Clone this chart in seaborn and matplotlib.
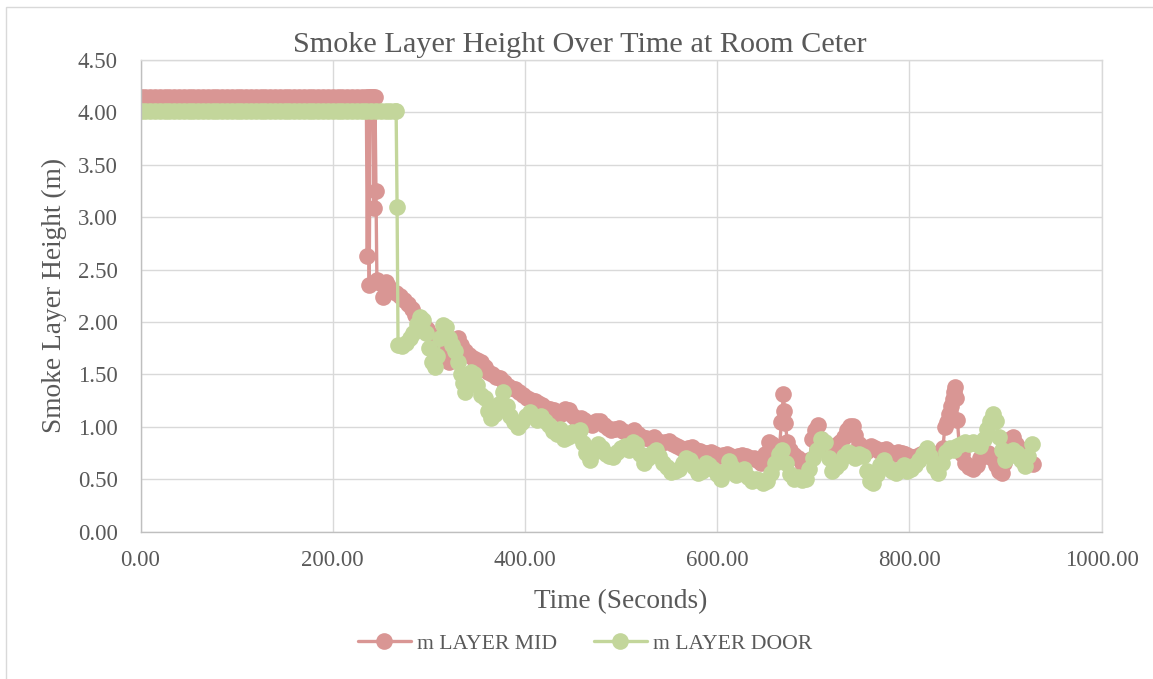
import matplotlib
matplotlib.use("Agg")
import matplotlib.pyplot as plt
from matplotlib.patches import Rectangle
from matplotlib.ticker import FormatStrFormatter, MultipleLocator
import seaborn as sns

# Smoke layer height (m) at the mid-room device
mid_time = [0, 5, 10, 15, 20, 25, 30, 35, 40, 45, 50, 55, 60, 65, 70, 75, 80, 85, 90, 95,
            100, 105, 110, 115, 120, 125, 130, 135, 140, 145, 150, 155, 160, 165, 170, 175,
            180, 185, 190, 195, 200, 205, 210, 215, 220, 225, 230, 235,
            236, 237, 238, 239, 240, 241, 242, 243, 244, 245,
            246, 249, 252, 255, 258, 262, 266, 270, 274, 278, 282, 286, 290, 294, 298,
            302, 306, 310, 314, 318, 321, 324, 327, 330, 334, 338, 342, 346, 350, 354, 358,
            362, 366, 370, 374, 378, 382, 386, 390, 394, 398, 402, 406, 410, 414, 418,
            422, 426, 430, 434, 438, 442, 446, 450, 454, 458, 462, 466, 470, 474, 478,
            482, 486, 490, 494, 498, 502, 506, 510, 514, 518, 522, 526, 530, 534, 538,
            542, 546, 550, 554, 558, 562, 566, 570, 574, 578, 582, 586, 590, 594, 598,
            602, 606, 610, 614, 618, 622, 626, 630, 634, 638, 642, 646, 650, 654, 657,
            660, 664, 667, 669, 670, 671, 673, 676, 680, 684, 688, 692, 696, 699, 702,
            705, 708, 712, 716, 720, 724, 728, 732, 735, 738, 741, 744, 748, 752, 756,
            760, 764, 768, 772, 776, 780, 784, 788, 792, 796, 800, 804, 808, 812, 816,
            820, 824, 828, 832, 835, 837, 839, 841, 843, 845, 847, 848, 849, 850, 852,
            855, 858, 862, 866, 870, 874, 878, 882, 886, 890, 893, 896, 899, 902, 905,
            908, 911, 914, 918, 922, 926, 929]
mid_height = [4.15, 4.15, 4.15, 4.15, 4.15, 4.15, 4.15, 4.15, 4.15, 4.15, 4.15, 4.15, 4.15,
              4.15, 4.15, 4.15, 4.15, 4.15, 4.15, 4.15, 4.15, 4.15, 4.15, 4.15, 4.15, 4.15,
              4.15, 4.15, 4.15, 4.15, 4.15, 4.15, 4.15, 4.15, 4.15, 4.15, 4.15, 4.15, 4.15,
              4.15, 4.15, 4.15, 4.15, 4.15, 4.15, 4.15, 4.15, 4.15,
              2.63, 4.15, 2.35, 4.15, 4.15, 4.15, 4.15, 3.09, 4.15, 3.25,
              2.40, 2.37, 2.24, 2.38, 2.34, 2.30, 2.28, 2.25, 2.21, 2.17, 2.12, 2.07, 2.02,
              1.98, 1.93, 1.88, 1.84, 1.80, 1.74, 1.67, 1.62, 1.72, 1.83, 1.85, 1.78, 1.72,
              1.69, 1.66, 1.64, 1.62, 1.57, 1.52, 1.50, 1.48, 1.47, 1.43, 1.39, 1.37, 1.36,
              1.33, 1.30, 1.28, 1.26, 1.25, 1.23, 1.21, 1.18, 1.17, 1.16, 1.13, 1.12, 1.17,
              1.16, 1.10, 1.06, 1.08, 1.07, 1.04, 1.02, 1.06, 1.06, 1.02, 0.99, 0.97, 0.98,
              0.99, 0.96, 0.94, 0.95, 0.97, 0.93, 0.90, 0.89, 0.88, 0.90, 0.87, 0.85, 0.86,
              0.87, 0.84, 0.82, 0.80, 0.79, 0.80, 0.81, 0.78, 0.77, 0.75, 0.75, 0.76, 0.74,
              0.72, 0.73, 0.74, 0.72, 0.71, 0.72, 0.73, 0.72, 0.70, 0.70, 0.68, 0.66, 0.74,
              0.86, 0.84, 0.72, 0.70, 1.05, 1.31, 1.15, 1.04, 0.86, 0.78, 0.73, 0.70, 0.66,
              0.62, 0.68, 0.88, 0.97, 1.02, 0.88, 0.80, 0.76, 0.80, 0.83, 0.86, 0.90, 0.97,
              1.01, 1.01, 0.92, 0.84, 0.78, 0.77, 0.82, 0.80, 0.77, 0.78, 0.79, 0.76, 0.74,
              0.76, 0.75, 0.74, 0.72, 0.71, 0.72, 0.74, 0.76, 0.73, 0.72, 0.74, 0.76, 0.80,
              1.00, 1.05, 1.12, 1.20, 1.27, 1.33, 1.38, 1.28, 1.07, 0.82, 0.74, 0.66, 0.62,
              0.60, 0.64, 0.70, 0.72, 0.75, 0.70, 0.64, 0.58, 0.56, 0.66, 0.78, 0.88, 0.90,
              0.84, 0.80, 0.76, 0.72, 0.66, 0.65]

# Smoke layer height (m) at the door device
door_time = [0, 5, 10, 15, 20, 25, 30, 35, 40, 45, 50, 55, 60, 65, 70, 75, 80, 85, 90, 95,
             100, 105, 110, 115, 120, 125, 130, 135, 140, 145, 150, 155, 160, 165, 170, 175,
             180, 185, 190, 195, 200, 205, 210, 215, 220, 225, 230, 235, 240, 245, 250,
             255, 260, 265, 266, 267, 268,
             272, 276, 280, 284, 288, 291, 294, 297, 300, 303, 306, 309, 312, 315, 318,
             321, 324, 327, 330, 333, 336, 338, 341, 344, 347, 350, 354, 358, 362, 365,
             369, 373, 377, 381, 385, 389, 393, 397, 401, 405, 409, 413, 417, 421, 425,
             429, 433, 437, 441, 445, 449, 453, 457, 460, 464, 468, 472, 476, 480, 484,
             488, 492, 496, 500, 504, 508, 512, 516, 520, 524, 528, 532, 536, 540, 544,
             548, 552, 556, 560, 564, 568, 572, 576, 580, 584, 588, 592, 596, 600, 604,
             608, 612, 616, 620, 624, 628, 632, 636, 640, 644, 648, 652, 656, 660, 664,
             668, 672, 676, 680, 684, 688, 692, 696, 700, 704, 708, 712, 716, 720, 724,
             728, 732, 736, 740, 744, 748, 752, 756, 759, 762, 766, 770, 774, 778, 782,
             786, 790, 794, 798, 802, 806, 810, 814, 818, 822, 826, 830, 834, 838, 842,
             846, 850, 854, 858, 862, 866, 870, 874, 878, 881, 884, 887, 890, 893, 896,
             900, 904, 908, 912, 916, 920, 924, 928]
door_height = [4.01, 4.01, 4.01, 4.01, 4.01, 4.01, 4.01, 4.01, 4.01, 4.01, 4.01, 4.01, 4.01,
               4.01, 4.01, 4.01, 4.01, 4.01, 4.01, 4.01, 4.01, 4.01, 4.01, 4.01, 4.01, 4.01,
               4.01, 4.01, 4.01, 4.01, 4.01, 4.01, 4.01, 4.01, 4.01, 4.01, 4.01, 4.01, 4.01,
               4.01, 4.01, 4.01, 4.01, 4.01, 4.01, 4.01, 4.01, 4.01, 4.01, 4.01, 4.01, 4.01,
               4.01, 4.01, 4.01, 3.10, 1.78,
               1.77, 1.80, 1.85, 1.90, 1.98, 2.05, 2.02, 1.90, 1.75, 1.62, 1.57, 1.68, 1.85,
               1.97, 1.95, 1.85, 1.78, 1.72, 1.62, 1.50, 1.42, 1.33, 1.45, 1.52, 1.50, 1.40,
               1.30, 1.28, 1.15, 1.08, 1.12, 1.22, 1.33, 1.20, 1.10, 1.05, 1.00, 1.05, 1.10,
               1.14, 1.10, 1.07, 1.10, 1.06, 1.02, 0.96, 0.93, 0.98, 0.88, 0.90, 0.95, 0.92,
               0.97, 0.85, 0.75, 0.68, 0.76, 0.84, 0.80, 0.74, 0.72, 0.71, 0.76, 0.80, 0.82,
               0.78, 0.86, 0.84, 0.74, 0.66, 0.70, 0.75, 0.78, 0.72, 0.66, 0.62, 0.57, 0.58,
               0.60, 0.66, 0.70, 0.68, 0.62, 0.56, 0.58, 0.66, 0.64, 0.60, 0.55, 0.50, 0.58,
               0.67, 0.62, 0.54, 0.58, 0.60, 0.52, 0.48, 0.50, 0.49, 0.46, 0.48, 0.56, 0.66,
               0.74, 0.78, 0.66, 0.55, 0.50, 0.52, 0.49, 0.50, 0.60, 0.70, 0.78, 0.88, 0.86,
               0.70, 0.58, 0.62, 0.66, 0.72, 0.76, 0.74, 0.70, 0.74, 0.72, 0.58, 0.48, 0.46,
               0.55, 0.64, 0.68, 0.62, 0.58, 0.56, 0.60, 0.64, 0.58, 0.60, 0.64, 0.68, 0.74,
               0.80, 0.72, 0.62, 0.56, 0.66, 0.76, 0.80, 0.78, 0.82, 0.84, 0.86, 0.84, 0.86,
               0.84, 0.82, 0.88, 0.98, 1.06, 1.12, 1.06, 0.90, 0.78, 0.68, 0.72, 0.78, 0.75,
               0.68, 0.63, 0.72, 0.84]

series_labels = ["m LAYER MID", "m LAYER DOOR"]
series_colors = ["#D99694", "#C3D69B"]
x_ticks = [0, 200, 400, 600, 800, 1000]

TEXT = "#595959"
W, H = 1153, 679

sns.set_theme(style="white")
plt.rcParams["font.family"] = ["Liberation Serif", "DejaVu Serif"]

fig = plt.figure(figsize=(W / 100, H / 100), dpi=100)
fig.patch.set_facecolor("white")

# chart-area frame
fig.patches.append(Rectangle((5.5 / W, -0.5), 2.0, 1.5 - 7 / H, transform=fig.transFigure,
                             fill=False, edgecolor="#D9D9D9", linewidth=1.0))

ax = fig.add_axes([140.5 / W, 1 - 531.7 / H, 961 / W, 471.7 / H])
ax.set_facecolor("white")

for t, h, col in [(mid_time, mid_height, series_colors[0]),
                  (door_time, door_height, series_colors[1])]:
    sns.lineplot(x=t, y=h, ax=ax, sort=False, estimator=None, color=col,
                 linewidth=2.4, marker="o", markersize=12, markeredgewidth=0,
                 legend=False)

ax.set_xlim(0, 1000)
ax.set_ylim(0, 4.5)
ax.set_xticks(x_ticks)
ax.yaxis.set_major_locator(MultipleLocator(0.5))
ax.xaxis.set_major_formatter(FormatStrFormatter("%.2f"))
ax.yaxis.set_major_formatter(FormatStrFormatter("%.2f"))

ax.grid(True, color="#D9D9D9", linewidth=1.0)
ax.set_axisbelow(True)
for side in ["top", "right"]:
    ax.spines[side].set_color("#D9D9D9")
    ax.spines[side].set_linewidth(1.0)
for side in ["left", "bottom"]:
    ax.spines[side].set_color("#BFBFBF")
    ax.spines[side].set_linewidth(1.0)

ax.tick_params(axis="x", length=5, width=1, color="#BFBFBF", pad=8,
               labelsize=16.5, labelcolor=TEXT)
ax.tick_params(axis="y", length=0, pad=16.5, labelsize=16.5, labelcolor=TEXT)

ax.set_xlabel("Time (Seconds)", fontsize=19.7, color=TEXT)
ax.xaxis.set_label_coords(0.5, (531.7 - 608) / 471.7)
ax.xaxis.label.set_va("baseline")
ax.set_ylabel("Smoke Layer Height (m)", fontsize=19.7, color=TEXT)
ax.yaxis.set_label_coords((54 - 140.5) / 961, 0.5)
ax.yaxis.label.set_va("center")

fig.text(580 / W, 1 - 52.3 / H, "Smoke Layer Height Over Time at Room Ceter",
         ha="center", va="baseline", fontsize=21.8, color=TEXT)

handles = ax.get_lines()[:2]
fig.legend(handles, series_labels, loc="center", bbox_to_anchor=(585 / W, 1 - 644 / H),
           ncol=2, frameon=False, fontsize=15.6, labelcolor=TEXT,
           handlelength=2.45, handletextpad=0.28, columnspacing=1.7, markerscale=1.0)

fig.savefig("out.png", dpi=100, facecolor="white")
